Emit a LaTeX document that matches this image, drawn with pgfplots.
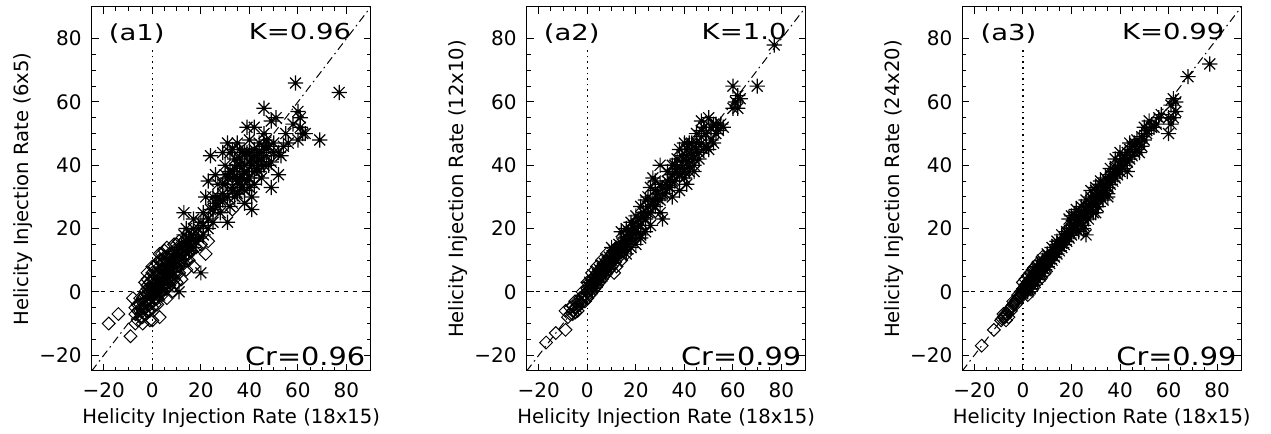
\documentclass[border=0pt]{standalone}
\usepackage{fontspec}
\setmainfont{DejaVu Sans}
\usepackage{pgfplots}
\pgfplotsset{compat=1.18}

\pgfdeclareplotmark{idlast}{%
 \pgfpathmoveto{\pgfqpoint{-\pgfplotmarksize}{0pt}}\pgfpathlineto{\pgfqpoint{\pgfplotmarksize}{0pt}}%
 \pgfpathmoveto{\pgfqpoint{0pt}{-\pgfplotmarksize}}\pgfpathlineto{\pgfqpoint{0pt}{\pgfplotmarksize}}%
 \pgfpathmoveto{\pgfqpoint{-0.72\pgfplotmarksize}{-0.72\pgfplotmarksize}}\pgfpathlineto{\pgfqpoint{0.72\pgfplotmarksize}{0.72\pgfplotmarksize}}%
 \pgfpathmoveto{\pgfqpoint{-0.72\pgfplotmarksize}{0.72\pgfplotmarksize}}\pgfpathlineto{\pgfqpoint{0.72\pgfplotmarksize}{-0.72\pgfplotmarksize}}%
 \pgfusepathqstroke}
\pgfdeclareplotmark{idldia}{%
 \pgfpathmoveto{\pgfqpoint{0pt}{\pgfplotmarksize}}%
 \pgfpathlineto{\pgfqpoint{\pgfplotmarksize}{0pt}}%
 \pgfpathlineto{\pgfqpoint{0pt}{-\pgfplotmarksize}}%
 \pgfpathlineto{\pgfqpoint{-\pgfplotmarksize}{0pt}}%
 \pgfpathclose\pgfusepathqstroke}

\pgfplotsset{
 panel/.style={
  width=139.5pt, height=182pt, scale only axis, anchor=south west,
  xmin=-25, xmax=90, ymin=-25, ymax=90,
  xtick={-20,0,20,40,60,80}, xticklabels={−20,0,20,40,60,80},
  ytick={-20,0,20,40,60,80}, yticklabels={−20,0,20,40,60,80},
  minor tick num=3, tick align=inside,
  major tick length=3.5pt, minor tick length=2pt,
  axis line style={line width=0.5pt},
  every tick/.style={black, line width=0.5pt},
  tick label style={font=\fontsize{10}{12}\selectfont},
  xticklabel style={anchor=base, yshift=-13pt},
  yticklabel style={xshift=-1.5pt},
  label style={font=\fontsize{9.8}{11}\selectfont},
  xlabel style={at={(axis description cs:0.5,-0.1429)}, anchor=base},
  ylabel style={at={(axis description cs:-0.246,0.5)}, anchor=center},
  xlabel={Helicity Injection Rate (18x15)},
 },
 ast/.style={only marks, mark=idlast, mark size=3.8pt, mark options={line width=0.6pt}, black},
 dia/.style={only marks, mark=idldia, mark size=3.2pt, mark options={line width=0.5pt}, black},
 refl/.style={black, line width=0.5pt, dash pattern=on 4pt off 2pt on 0.8pt off 2pt},
 zx/.style={black, line width=0.6pt, dash pattern=on 0.8pt off 2pt},
 zy/.style={black, line width=0.5pt, dash pattern=on 2pt off 2.5pt},
}
\newcommand\kfont{\fontsize{11}{13}\selectfont}
\newcommand\cfont{\fontsize{12.5}{14}\selectfont}

\begin{document}
\begin{tikzpicture}
\useasboundingbox (0,0) rectangle (635.5pt,217pt);

% ---------------- panel a1
\begin{axis}[panel, at={(45.85pt,31.5pt)}, ylabel={Helicity Injection Rate (6x5)}]
\addplot[zy] coordinates {(-25,0) (90,0)};
\addplot[zx] coordinates {(0,-25) (0,77)};
\addplot[refl] coordinates {(-25,-25) (90,90)};
\addplot[dia] coordinates {
(-18,-10) (-14,-7) (-9,-14) (-8,-2) (-7,-10) (-2,6) (0,-9) (3,-8) (17,8) (22,12) (23,16) (20,15) (33,26)
(-6,-6) (-5,-4) (-5,-8) (-4,-2) (-4,-6) (-3,-5) (-3,0) (-3,-3) (-2,-1) (-2,-4) (-2,2) (-1,-2) (-1,1) (-1,-6)
(0,0) (0,2) (0,-3) (0,4) (1,1) (1,-2) (1,3) (1,6) (2,0) (2,2) (2,5) (2,-4) (3,3) (3,1) (3,6) (3,8)
(4,2) (4,5) (4,-1) (4,9) (5,4) (5,7) (5,1) (5,11) (6,6) (6,3) (6,9) (7,5) (7,8) (7,12) (7,2) (8,7) (8,10)
(8,4) (9,9) (9,13) (9,6) (10,8) (10,11) (10,15) (11,10) (11,6) (12,12) (12,9) (13,11) (13,16) (14,12)
(15,14) (15,10) (16,15) (18,17) (8,0) (10,3) (6,-2) (-6,-9) (-4,-10) (-1,-9) (12,4) (14,7) (9,2) (-7,-5)
(-3,3) (4,12) (2,9) (6,14)
(-5,-6) (-4,-5) (-4,-8) (-3,-7) (-3,-1) (-2,-3) (-2,-6) (-2,1) (-1,0) (-1,-4) (-1,3) (0,-1) (0,-5) (0,1)
(0,6) (1,0) (1,-4) (1,2) (1,4) (1,8) (2,1) (2,3) (2,6) (2,-2) (3,0) (3,4) (3,5) (3,10) (4,0) (4,3) (4,7)
(4,10) (5,2) (5,5) (5,9) (5,13) (6,1) (6,4) (6,7) (6,11) (7,3) (7,6) (7,10) (8,5) (8,8) (8,12) (9,4)
(9,10) (9,15) (10,6) (10,13) (11,8) (11,12) (11,16) (12,10) (12,14) (13,9) (13,13) (14,10) (14,15)
(15,12) (16,13) (16,18) (17,16) (18,14) (19,18) (-6,-4) (-7,-7) (-5,-2) (0,8) (3,12) (-2,4)};
\addplot[ast] coordinates {
(59,66) (77,63) (69,48) (46,58) (20,6) (60,57) (49,54) (51,55) (61,52) (62,50) (60,48) (63,50) (61,55)
(39,52) (31,47) (24,43) (41,26) (31,22) (13,25) (49,33) (52,37) (53,43) (22,30) (23,35) (30,40) (32,38)
(34,42) (35,36) (36,40) (37,44) (38,38) (40,41) (42,45) (43,39) (44,47) (45,42) (46,50) (47,45) (48,40)
(50,47) (33,33) (34,30) (36,34) (38,32) (40,36) (41,30) (42,34) (44,38) (29,31) (27,34) (26,28) (28,25)
(25,22) (23,20) (21,18) (19,20) (18,16) (16,18) (15,13) (14,20) (12,14) (10,12) (9,8) (7,6) (5,3) (3,2)
(1,0) (-1,-2) (11,0) (17,23) (24,26) (35,47) (39,44) (45,36) (30,34) (33,36) (37,37) (41,42) (43,43)
(35,31) (28,29) (32,27) (38,28) (47,48) (49,41) (52,44) (54,46) (56,47) (58,53) (55,50) (36,45) (40,48)
(42,52) (33,45) (29,44) (26,37) (25,30) (21,25) (20,22) (17,14) (14,16)
(0,1) (2,3) (4,4) (6,8) (8,9) (10,10) (12,12) (14,15) (16,14) (3,-1) (5,6) (7,9) (9,12) (11,14) (13,18)
(15,17) (17,20) (19,17) (21,21) (23,23) (25,26) (27,27) (29,29) (31,30) (33,32) (35,35) (37,36) (39,38)
(41,40) (43,41) (45,44) (47,43) (39,35) (37,33) (35,40) (33,38) (31,36) (29,34) (27,30) (36,42) (38,44)
(40,44) (42,38) (44,40) (46,46) (48,46) (50,44) (30,37) (32,44) (34,39) (36,32) (38,40) (40,33) (42,43)
(44,44) (46,40)};
\node[anchor=base west, font=\kfont, xscale=1.25] at (axis cs:-21.6,79.5) {(a1)};
\node[anchor=base west, font=\kfont, xscale=1.25] at (axis cs:36.1,79.8) {K=0.96};
\node[anchor=base west, font=\cfont, xscale=1.15] at (axis cs:34.9,-23.3) {Cr=0.96};
\end{axis}

% ---------------- panel a2
\begin{axis}[panel, at={(263.35pt,31.5pt)}, ylabel={Helicity Injection Rate (12x10)}]
\addplot[zy] coordinates {(-25,0) (90,0)};
\addplot[zx] coordinates {(0,-25) (0,77)};
\addplot[refl] coordinates {(-25,-25) (90,90)};
\addplot[dia] coordinates {
(-17,-16) (-13,-13) (-9,-12) (-9,-6) (-8,-8) (-7,-7) (-6,-6) (-6,-7) (-5,-5) (-5,-3) (-4,-4) (-4,-6)
(-3,-2) (-3,-4) (-2,-2) (-2,0) (-1,-1) (-1,-3) (0,0) (0,1) (0,-2) (1,1) (1,3) (1,-1) (2,2) (2,4) (2,0)
(3,3) (3,5) (3,1) (4,4) (4,6) (4,2) (5,5) (5,7) (5,3) (6,6) (6,8) (6,4) (7,7) (7,9) (7,5) (8,8) (8,10)
(8,6) (9,9) (9,11) (9,7) (10,10) (10,12) (10,8) (11,11) (11,13) (11,9) (12,12) (12,14) (13,13) (13,11)
(14,14) (15,15) (15,13) (16,16) (17,15) (18,17) (19,19) (20,18) (22,20) (12,8) (14,10) (16,12) (11,6)
(-4.5,-5) (-3.5,-3) (-2.5,-3.5) (-1.5,-1) (-0.5,-1.5) (0.5,0.5) (1.5,1) (2.5,3) (3.5,3) (4.5,5.5)
(5.5,5) (6.5,7.5) (7.5,7) (8.5,9.5) (9.5,9) (10.5,11.5) (11.5,11) (12.5,13.5) (13.5,13) (14.5,15)
(-7,-5) (-6,-4.5) (-5,-6.5) (0,3) (2,6) (4,8) (6,10) (8,12)};
\addplot[ast] coordinates {
(77,78) (60,65) (70,65) (61,60) (62,58) (62,62) (60,58) (63,61) (31,23) (41,34) (50,55) (48,52) (52,47)
(55,53) (53,50) (51,48) (49,46) (47,49) (46,44) (45,47) (44,42) (43,45) (42,40) (41,43) (40,38) (39,41)
(38,37) (37,39) (36,35) (35,37) (34,33) (33,35) (32,31) (31,33) (30,29) (29,31) (28,27) (27,29) (26,25)
(25,27) (24,23) (23,25) (22,21) (21,23) (20,19) (19,21) (18,17) (17,19) (16,15) (15,17) (14,13) (13,15)
(12,11) (11,13) (10,9) (9,11) (8,7) (7,9) (6,5) (5,7) (4,3) (3,5) (2,1) (1,3) (28,32) (30,34) (25,30)
(22,17) (38,45) (40,47) (47,54) (50,45) (44,38) (35,30) (30,25) (20,15) (14,19) (10,14) (56,52) (52,53)
(42,47) (36,40) (30,40) (27,36)
(0.5,1.5) (1.5,2) (2.5,3.5) (3.5,4) (4.5,5) (5.5,6) (6.5,7) (7.5,8) (8.5,9) (9.5,10) (10.5,11) (11.5,12)
(12.5,13) (13.5,14) (14.5,15) (15.5,16) (16.5,17) (17.5,18) (18.5,19) (19.5,20) (21,21) (23,23.5) (25,25)
(27,27.5) (29,29.5) (31,31) (33,33.5) (35,35) (37,37.5) (39,39) (41,41) (43,43) (45,45) (47,47) (49,50)
(51,52) (53,53) (54,51) (33,38) (35,40) (37,42) (39,43) (41,45) (43,47) (45,50) (47,51) (38,32) (40,36)
(42,38) (44,40) (46,42) (48,45) (28,35) (26,33) (24,29) (22,27) (20,24) (18,22) (16,20) (26,21) (24,19)
(22,18) (18,14) (16,12)};
\node[anchor=base west, font=\kfont, xscale=1.25] at (axis cs:-21.6,79.5) {(a2)};
\node[anchor=base west, font=\kfont, xscale=1.25] at (axis cs:43.5,79.8) {K=1.0};
\node[anchor=base west, font=\cfont, xscale=1.15] at (axis cs:35.3,-23.3) {Cr=0.99};
\end{axis}

% ---------------- panel a3
\begin{axis}[panel, at={(481.15pt,31.5pt)}, ylabel={Helicity Injection Rate (24x20)}]
\addplot[zy] coordinates {(-25,0) (90,0)};
\addplot[zx] coordinates {(0,-25) (0,77)};
\addplot[refl] coordinates {(-25,-25) (90,90)};
\addplot[dia] coordinates {
(-17,-17) (-12,-12) (-8,-8) (-8,-7) (-7,-9) (-7,-7) (-6,-8) (-6,-6) (-5,-5) (-5,-6) (-4,-4) (-4,-3)
(-3,-3) (-3,-4) (-2,-2) (-2,-1) (-1,-1) (-1,0) (0,0) (0,1) (0,-1) (1,1) (1,2) (1,0) (2,2) (2,3) (2,1)
(3,3) (3,4) (3,2) (4,4) (4,5) (4,3) (5,5) (5,6) (5,4) (6,6) (6,7) (6,5) (7,7) (7,8) (7,6) (8,8) (8,9)
(8,7) (9,9) (9,10) (9,8) (10,10) (10,11) (10,9) (11,11) (11,10) (12,12) (12,11) (13,13) (13,12) (14,14)
(15,15) (16,15) (17,16) (19,20) (20,21) (22,22) (-9,-9) (1,4) (3,6) (5,8) (7,4) (9,6)
(-4.5,-4.5) (-3.5,-3.5) (-2.5,-2.5) (-1.5,-1.5) (-0.5,-0.5) (0.5,0.5) (1.5,1.5) (2.5,2.5) (3.5,3.5)
(4.5,4.5) (5.5,5.5) (6.5,6.5) (7.5,7.5) (8.5,8.5) (9.5,9.5) (10.5,10.5) (11.5,11.5) (-7.5,-8) (-6.5,-7)
(-8.5,-8.5) (-7.5,-7.5) (0,3) (2,5) (4,7) (6,9) (8,11) (2,-1) (4,1)};
\addplot[ast] coordinates {
(77,72) (68,68) (62,61) (61,59) (63,60) (60,50) (61,53) (62,55) (63,57) (60,55) (44,47) (26,18) (56,55)
(53,52) (51,50) (50,48) (49,46) (48,47) (47,45) (46,44) (45,43) (44,42) (43,41) (42,40) (41,39) (40,38)
(39,37) (38,36) (37,35) (36,34) (35,33) (34,32) (33,31) (32,30) (31,29) (30,28) (29,27) (28,26) (27,25)
(26,24) (25,23) (24,22) (23,21) (22,20) (21,19) (20,18) (19,17) (18,16) (17,15) (16,14) (15,13) (14,12)
(13,11) (12,10) (11,9) (10,8) (9,7) (8,6) (7,5) (6,4) (5,3) (4,2) (3,1) (2,0) (40,40) (38,39) (36,37)
(34,36) (32,34) (30,32) (28,30) (26,27) (24,25) (22,24) (20,21) (18,19) (42,42) (46,47) (48,44) (50,52)
(54,52) (43,38) (35,30) (30,25) (25,20) (21,24) (19,23) (16,18) (14,15)
(1,1) (2,2) (3,3) (4,4) (5,5) (6,6) (7,7) (8,8) (9,9) (10,10) (11,11) (12,12) (13,13) (14,14) (15,15)
(16,16) (17,17) (18,18) (19,19) (20,20) (21,21) (22,22) (23,23) (24,24) (25,25) (26,26) (27,27) (28,28)
(29,29) (30,30) (31,31) (32,32) (33,33) (34,34) (35,35) (36,36) (37,37) (38,38) (39,39) (40,41) (41,42)
(42,43) (43,44) (44,45) (45,46) (47,48) (49,49) (51,51) (52,54) (55,53) (57,56) (12,14) (14,16) (10,12)
(8,10) (6,8) (4,6) (24,27) (26,29) (28,32) (30,33) (32,35) (36,39) (38,42) (40,44) (22,26) (20,24)
(23,19) (25,21) (27,23) (29,25) (31,27) (33,29) (35,31)};
\node[anchor=base west, font=\kfont, xscale=1.25] at (axis cs:-21.1,79.5) {(a3)};
\node[anchor=base west, font=\kfont, xscale=1.25] at (axis cs:37.2,79.8) {K=0.99};
\node[anchor=base west, font=\cfont, xscale=1.15] at (axis cs:35.2,-23.3) {Cr=0.99};
\end{axis}
\end{tikzpicture}
\end{document}
